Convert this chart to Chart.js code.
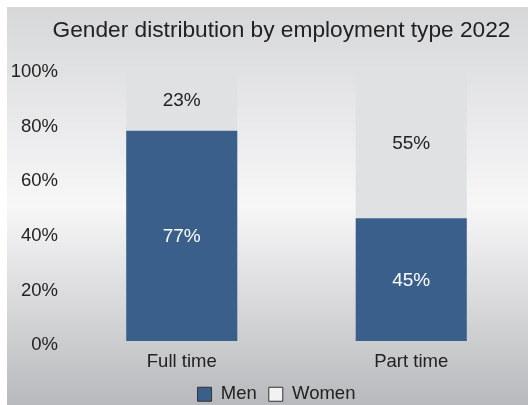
<!DOCTYPE html>
<html>
<head>
<meta charset="utf-8">
<script src="https://cdn.jsdelivr.net/npm/chart.js@4/dist/chart.umd.min.js"></script>
<style>
  html, body { margin: 0; padding: 0; background: #fff; }
  #wrap { width: 528px; height: 405px; }
</style>
</head>
<body>
<div id="wrap"><canvas id="genderChart"></canvas></div>
<script>
const categories = ['Full time', 'Part time'];
const menShare = [77, 45];
const womenShare = [23, 55];
const yTicks = [0, 20, 40, 60, 80, 100];

const FONT = '"Liberation Sans", Arial, sans-serif';
const TEXT_SIZE = 18.5;

// grey panel with vertical gradient behind the whole chart
const panelBackground = {
    id: 'panelBackground',
    beforeDraw(chart) {
        const { ctx, width, height } = chart;
        ctx.save();
        ctx.fillStyle = '#ffffff';
        ctx.fillRect(0, 0, width, height);
        const g = ctx.createLinearGradient(0, 7, 0, height);
        g.addColorStop(0, '#d6d7d9');
        g.addColorStop(0.5, '#f7f7f8');
        g.addColorStop(1, '#b8b9bc');
        ctx.fillStyle = g;
        ctx.fillRect(7, 7, width - 7, height - 7);
        ctx.restore();
    }
};

// title and legend sit a little right of the canvas centre in the original
const nudgeBlocks = {
    id: 'nudgeBlocks',
    afterLayout(chart) {
        const shift = (box, dx) => {
            if (!box) return;
            box.left += dx;
            box.right += dx;
        };
        shift(chart.titleBlock, 15);
        shift(chart.legend, 10);
    }
};

// percentage labels in the middle of each bar segment
const barValueLabels = {
    id: 'barValueLabels',
    afterDatasetsDraw(chart) {
        const { ctx } = chart;
        ctx.save();
        ctx.font = '19px ' + FONT;
        ctx.textAlign = 'center';
        ctx.textBaseline = 'middle';
        chart.data.datasets.forEach((ds, i) => {
            chart.getDatasetMeta(i).data.forEach((bar, j) => {
                const mid = (bar.y + bar.base) / 2 + 1;
                ctx.fillStyle = i === 0 ? '#ffffff' : '#222222';
                ctx.fillText(ds.data[j] + '%', bar.x, mid);
            });
        });
        ctx.restore();
    }
};

const ctx = document.getElementById('genderChart').getContext('2d');
new Chart(ctx, {
    type: 'bar',
    data: {
        labels: categories,
        datasets: [
            {
                label: 'Men',
                data: menShare,
                backgroundColor: '#3a5f8b'
            },
            {
                label: 'Women',
                data: womenShare,
                backgroundColor: '#e0e1e3'
            }
        ]
    },
    options: {
        responsive: true,
        maintainAspectRatio: false,
        animation: false,
        devicePixelRatio: 1,
        layout: { padding: { left: 7, right: 2, top: 7, bottom: 0 } },
        datasets: {
            bar: { categoryPercentage: 1, barPercentage: 0.484 }
        },
        plugins: {
            title: {
                display: true,
                text: 'Gender distribution by employment type 2022',
                color: '#222',
                font: { family: FONT, size: 22.7, weight: 'normal' },
                padding: { top: 10, bottom: 23.8 }
            },
            legend: {
                position: 'bottom',
                maxHeight: 32,
                labels: {
                    color: '#222',
                    font: { family: FONT, size: TEXT_SIZE },
                    boxWidth: 14,
                    boxHeight: 14,
                    padding: 12,
                    generateLabels(chart) {
                        return chart.data.datasets.map((ds, i) => ({
                            text: ds.label,
                            fillStyle: i === 0 ? '#3a5f8b' : '#f2f2f3',
                            strokeStyle: '#333',
                            lineWidth: 1,
                            fontColor: '#222',
                            datasetIndex: i
                        }));
                    }
                }
            },
            tooltip: { enabled: false }
        },
        scales: {
            x: {
                stacked: true,
                grid: { display: false, drawTicks: false },
                border: { display: false },
                ticks: {
                    color: '#222',
                    font: { family: FONT, size: TEXT_SIZE },
                    padding: 10
                },
                afterFit(scale) { scale.height = 32; }
            },
            y: {
                stacked: true,
                min: 0,
                max: 100,
                grid: { display: false, drawTicks: false },
                border: { display: false },
                afterBuildTicks(scale) {
                    scale.ticks = yTicks.map(v => ({ value: v }));
                },
                ticks: {
                    color: '#222',
                    font: { family: FONT, size: TEXT_SIZE },
                    padding: 9,
                    labelOffset: 4,
                    callback: v => v + '%'
                },
                afterFit(scale) { scale.width = 60; }
            }
        }
    },
    plugins: [panelBackground, nudgeBlocks, barValueLabels]
});
</script>
</body>
</html>
